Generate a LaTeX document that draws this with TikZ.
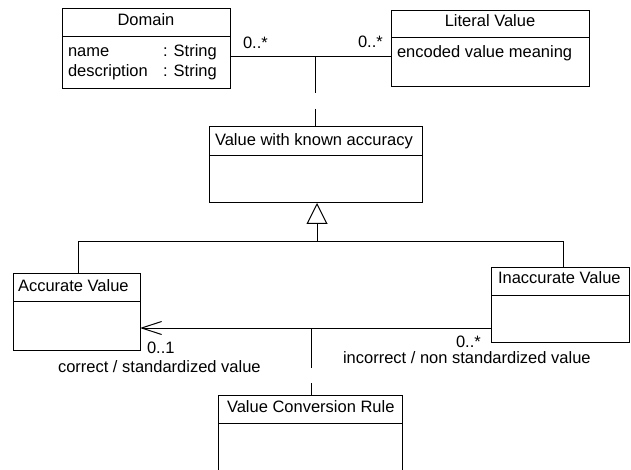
\documentclass[tikz,border=0pt]{standalone}
\usepackage{fontspec}
\setmainfont{Liberation Sans}
\usetikzlibrary{arrows.meta}

\begin{document}
\begin{tikzpicture}[x=1pt,y=-1pt,line width=1pt,
  classbox/.style={draw,rectangle,inner sep=0pt,outer sep=0pt,anchor=north west},
  txt/.style={inner sep=0pt,outer sep=0pt,font=\fontsize{16.5}{19}\selectfont},
  lbl/.style={txt,anchor=base west},
  ttl/.style={txt,anchor=base},
  assocA/.style={dash pattern=on 36pt off 16pt},
  assocB/.style={dash pattern=on 40pt off 15pt},
  navarrow/.style={-{Straight Barb[length=20pt,width=13pt,line width=1pt]}},
  genarrow/.style={-{Triangle[open,length=21pt,width=21pt,line width=1pt]}}]

\clip (0,0) rectangle (631,470);
\fill[white] (0,0) rectangle (631,470);

% class boxes
\node[classbox,minimum width=168pt,minimum height=80pt] (domain) at (62,9) {};
\node[classbox,minimum width=198pt,minimum height=76pt] (literal) at (391,11) {};
\node[classbox,minimum width=213pt,minimum height=76pt] (vwka) at (209,127) {};
\node[classbox,minimum width=127pt,minimum height=77pt] (accurate) at (13,273) {};
\node[classbox,minimum width=138pt,minimum height=75pt] (inaccurate) at (491,267) {};
\node[classbox,minimum width=184pt,minimum height=100pt] (vcr) at (218,395) {};

% compartment dividers
\draw (domain.west |- 0,37) -- (domain.east |- 0,37);
\draw (literal.west |- 0,38) -- (literal.east |- 0,38);
\draw (vwka.west |- 0,156) -- (vwka.east |- 0,156);
\draw (accurate.west |- 0,301) -- (accurate.east |- 0,301);
\draw (inaccurate.west |- 0,295) -- (inaccurate.east |- 0,295);
\draw (vcr.west |- 0,423) -- (vcr.east |- 0,423);

% class names and attributes
\node[ttl] (tDomain) at (146,26) {Domain};
\node[lbl] (aName) at (68,57) {name};
\node[lbl] (aNameT) at (163,57) {: String};
\node[lbl] (aDesc) at (68,77) {description};
\node[lbl] (aDescT) at (163,77) {: String};
\node[ttl] (tLiteral) at (490,27) {Literal Value};
\node[lbl] (aMeaning) at (397,58) {encoded value meaning};
\node[lbl] (tVwka) at (215,146) {Value with known accuracy};
\node[lbl] (tAccurate) at (18,291) {Accurate Value};
\node[lbl] (tInaccurate) at (498,283) {Inaccurate Value};
\node[lbl] (tVcr) at (227,412) {Value Conversion Rule};

% association Domain -- Literal Value with its association class
\coordinate (assocTop) at (315,57);
\draw (domain.east |- assocTop) -- (literal.west |- assocTop);
\draw[assocA] (assocTop) -- (vwka.north -| assocTop);
\node[lbl] (mDomain) at (243,49) {0..*};
\node[lbl] (mLiteral) at (358,48) {0..*};

% generalization
\coordinate (gen) at (317,241);
\coordinate (genL) at (78,241);
\coordinate (genR) at (563,241);
\draw[genarrow] (gen) -- (vwka.south -| gen);
\draw (accurate.north -| genL) -- (genL) -- (genR) -- (inaccurate.north -| genR);

% association Inaccurate -> Accurate with its association class
\coordinate (assocBot) at (311,328);
\draw[navarrow] (inaccurate.west |- assocBot) -- (accurate.east |- assocBot);
\draw[assocB] (assocBot) -- (vcr.north -| assocBot);
\node[lbl] (mAcc) at (147,353) {0..1};
\node[lbl] (rAcc) at (58,372) {correct / standardized value};
\node[lbl] (mInacc) at (456,347) {0..*};
\node[lbl] (rInacc) at (343,363) {incorrect / non standardized value};
\end{tikzpicture}
\end{document}
